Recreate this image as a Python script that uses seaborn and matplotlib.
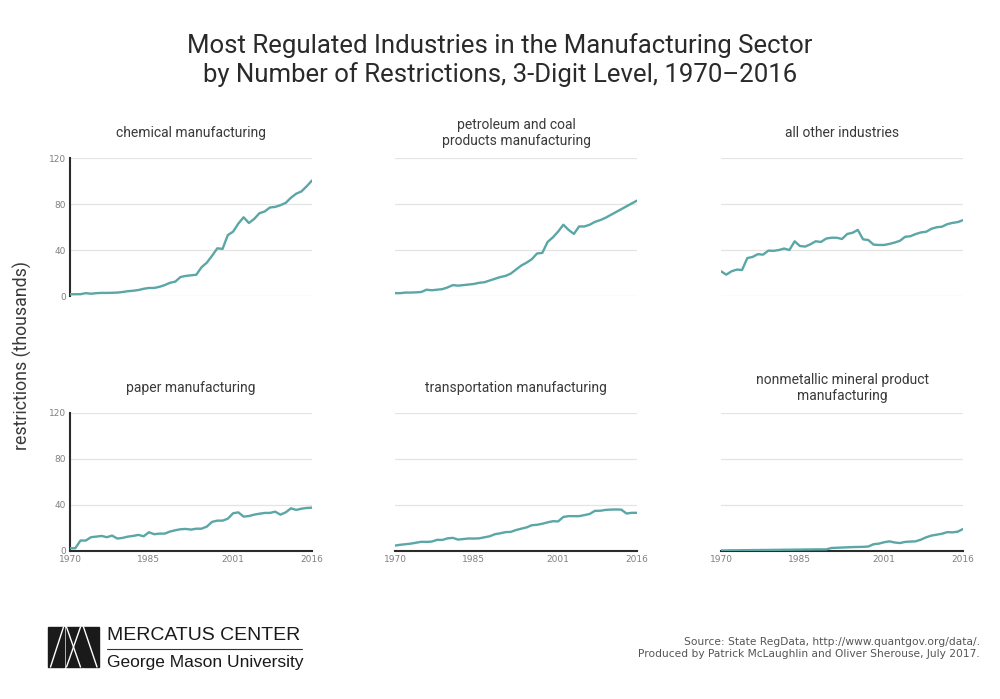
import numpy as np
import pandas as pd
import seaborn as sns
import matplotlib.pyplot as plt
from matplotlib.patches import Rectangle
from matplotlib.lines import Line2D

# Data (thousands of restrictions)
years = list(range(1970, 2017))

chemical = [1.5, 1.6, 1.6, 2.5, 2.0, 2.5, 2.7, 2.7, 2.8, 3.0,
            3.5, 4.2, 4.6, 5.2, 6.3, 7.0, 7.0, 8.0, 9.5, 11.5,
            12.5, 16.5, 17.5, 18.0, 18.5, 25.0, 29.0, 35.0, 41.5, 41.0,
            53.0, 56.0, 63.0, 68.5, 63.5, 67.0, 72.0, 73.5, 77.0, 77.5,
            79.0, 81.0, 85.5, 89.0, 91.0, 95.5, 100.5]

petroleum = [2.5, 2.5, 3.0, 3.0, 3.2, 3.5, 5.5, 5.0, 5.5, 6.0,
             7.5, 9.5, 9.0, 9.5, 10.0, 10.5, 11.5, 12.0, 13.5, 15.0,
             16.5, 17.5, 19.5, 23.0, 26.5, 29.0, 32.0, 37.0, 37.5, 47.0,
             51.0, 56.0, 62.0, 57.5, 54.0, 60.5, 60.5, 62.0, 64.5, 66.0,
             68.0, 70.5, 73.0, 75.5, 78.0, 80.5, 83.0]

all_other = [21.5, 18.6, 21.5, 23.0, 22.6, 33.0, 34.0, 36.4, 36.0, 39.5,
             39.3, 40.0, 41.3, 40.0, 47.6, 43.5, 43.0, 45.0, 47.6, 47.0,
             50.0, 50.7, 50.7, 49.6, 54.0, 55.0, 57.5, 49.3, 48.7, 44.7,
             44.4, 44.4, 45.3, 46.5, 48.0, 51.5, 52.0, 53.9, 55.3, 55.9,
             58.5, 59.8, 60.3, 62.5, 63.6, 64.3, 66.0]

paper = [2.0, 2.0, 8.7, 8.7, 11.6, 12.1, 12.7, 11.6, 13.0, 10.4,
         11.0, 12.1, 12.7, 13.6, 12.4, 15.9, 14.2, 14.7, 14.7, 16.5,
         17.6, 18.5, 18.8, 18.2, 19.0, 19.0, 20.8, 24.9, 26.0, 26.0,
         27.7, 32.4, 33.2, 29.5, 30.0, 31.2, 32.0, 32.7, 32.7, 33.8,
         31.2, 33.2, 36.7, 35.3, 36.4, 37.0, 37.3]

transportation = [4.3, 5.0, 5.5, 6.0, 6.8, 7.6, 7.5, 7.8, 9.3, 9.2,
                  10.6, 11.0, 9.5, 10.0, 10.5, 10.4, 10.6, 11.5, 12.4, 14.2,
                  15.0, 16.0, 16.2, 17.8, 19.0, 20.1, 22.0, 22.4, 23.3, 24.5,
                  25.5, 25.3, 29.2, 29.9, 29.9, 29.9, 30.8, 31.8, 34.5, 34.6,
                  35.3, 35.6, 35.7, 35.6, 32.2, 32.8, 32.8]

nonmetallic = [0.1, 0.1, 0.2, 0.2, 0.3, 0.3, 0.4, 0.4, 0.5, 0.5,
               0.6, 0.6, 0.7, 0.7, 0.8, 0.8, 0.9, 0.9, 1.0, 1.0,
               1.0, 2.2, 2.4, 2.6, 2.8, 3.0, 3.1, 3.2, 3.5, 5.5,
               6.0, 7.2, 8.0, 7.0, 6.5, 7.5, 7.8, 8.0, 9.5, 11.5,
               13.0, 13.8, 14.6, 16.0, 15.8, 16.4, 18.7]

titles = ["chemical manufacturing",
          "petroleum and coal\nproducts manufacturing",
          "all other industries",
          "paper manufacturing",
          "transportation manufacturing",
          "nonmetallic mineral product\nmanufacturing"]
series = [chemical, petroleum, all_other, paper, transportation, nonmetallic]

y_ticks = [0, 40, 80, 120]
x_ticks = [1970, 1985, 2001, 2016]

# long table for seaborn
frames = []
for name, vals in zip(titles, series):
    frames.append(pd.DataFrame({"industry": name, "year": years, "restrictions": vals}))
df = pd.concat(frames, ignore_index=True)

sns.set_style("white")
plt.rcParams['font.family'] = ['DejaVu Sans']

teal = "#5ba6a6"
grid_c = "#e4e4e4"
spine_c = "#2b2b2b"
text_c = "#3a3a3a"
tick_c = "#808080"
head_font = ["Roboto", "DejaVu Sans"]

fig = plt.figure(figsize=(10, 6.99), dpi=100)

lefts = [0.070, 0.395, 0.721]
bottoms = [0.5765, 0.2124]
w, h = 0.242, 0.1974

for i, name in enumerate(titles):
    r, c = divmod(i, 3)
    ax = fig.add_axes([lefts[c], bottoms[r], w, h])
    sns.lineplot(data=df[df["industry"] == name], x="year", y="restrictions",
                 ax=ax, color=teal, linewidth=1.7, zorder=3)
    ax.set_xlim(1970, 2016)
    ax.set_ylim(0, 120)
    ax.set_yticks(y_ticks)
    ax.set_xticks(x_ticks)
    ax.grid(axis="y", color=grid_c, linewidth=0.9)
    ax.set_axisbelow(True)
    ax.set_xlabel("")
    ax.set_ylabel("")
    for s in ax.spines.values():
        s.set_visible(False)
    ax.tick_params(length=0, labelsize=6.5, labelcolor=tick_c, pad=3)
    if c == 0:
        ax.spines["left"].set_visible(True)
        ax.spines["left"].set_color(spine_c)
        ax.spines["left"].set_linewidth(1.5)
    else:
        ax.set_yticklabels([])
    if r == 1:
        ax.spines["bottom"].set_visible(True)
        ax.spines["bottom"].set_color(spine_c)
        ax.spines["bottom"].set_linewidth(1.5)
        ax.set_xticklabels([str(t) for t in x_ticks])
    else:
        ax.set_xticklabels([])
    ax.text(0.5, 1.18, name, transform=ax.transAxes, ha="center", va="center",
            fontsize=10, color=text_c, linespacing=1.2, family=head_font)

# main title and axis label
fig.text(0.5, 0.914, "Most Regulated Industries in the Manufacturing Sector\n"
         "by Number of Restrictions, 3-Digit Level, 1970\u20132016",
         ha="center", va="center", fontsize=18.5, color="#2a2a2a",
         linespacing=1.2, family=head_font)
fig.text(0.022, 0.492, "restrictions (thousands)", rotation=90, ha="center",
         va="center", fontsize=12.8, color=text_c, family=head_font)

# source note
fig.text(0.980, 0.073, "Source: State RegData, http://www.quantgov.org/data/.\n"
         "Produced by Patrick McLaughlin and Oliver Sherouse, July 2017.",
         ha="right", va="center", fontsize=7.7, color="#555555", linespacing=1.3)

# logo, drawn in pixel coordinates on an overlay
lax = fig.add_axes([0, 0, 1, 1])
lax.set_xlim(0, 1000)
lax.set_ylim(699, 0)
lax.axis("off")
lax.patch.set_alpha(0)
for x0 in [47.5, 65.5, 82.5]:
    lax.add_patch(Rectangle((x0, 627), 16.5, 40, color="#1a1a1a"))
for xs, ys in [((50.5, 63.5), (667, 627)),
               ((66.5, 80.5), (627, 667)), ((80.5, 66.5), (627, 667)),
               ((83.5, 97), (627, 667))]:
    lax.add_line(Line2D(xs, ys, color="white", linewidth=1.0))
lax.add_line(Line2D((107, 302), (649, 649), color="#333333", linewidth=0.8))
lax.text(107, 636, "MERCATUS CENTER", ha="left", va="center",
         fontsize=14, family="Liberation Sans", color="#1a1a1a")
lax.text(107, 662, "George Mason University", ha="left", va="center",
         fontsize=12.5, family="Liberation Sans", color="#1a1a1a")

fig.savefig("out.png", dpi=100)
